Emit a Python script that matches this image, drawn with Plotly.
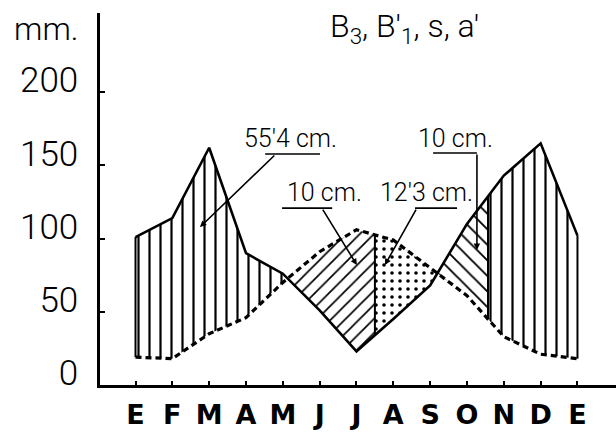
import numpy as np
import plotly.graph_objects as go

# ---------------- data ----------------
month_labels = ["E", "F", "M", "A", "M", "J", "J", "A", "S", "O", "N", "D", "E"]
months = list(range(len(month_labels)))
precip = [101, 114, 162, 90, 76, 51, 23, 45, 68, 110, 143, 165, 102]   # precipitation, mm (solid)
pet = [19, 18, 35, 46, 70, 91, 106, 99, 80, 61, 33, 21, 18]             # potential evapotranspiration, mm (dashed)
y_ticks = [0, 50, 100, 150, 200]
util_end = 6.50       # month position where soil-water use (10 cm) ends
recharge_end = 9.57   # month position where soil-water recharge (10 cm) ends
title_text = "B<sub>3</sub>, B'<sub>1</sub>, s, a'"

# --------------- helpers ---------------
m = np.array(months, dtype=float)
P = np.array(precip, dtype=float)
E = np.array(pet, dtype=float)
d = P - E
cross = []
for i in range(len(m) - 1):
    if d[i] * d[i + 1] < 0:
        cross.append(m[i] + d[i] / (d[i] - d[i + 1]))
c1, c2 = cross[0], cross[1]


def region(xa, xb, upper, lower):
    inner = [v for v in m if xa < v < xb]
    xs = [xa] + inner + [xb]
    up = np.interp(xs, m, upper)
    lo = np.interp(xs, m, lower)
    return xs + xs[::-1] + [xa], list(up) + list(lo[::-1]) + [up[0]]


def pat(shape, size, sol):
    return dict(shape=shape, size=size, solidity=sol, fgcolor="black",
                bgcolor="white", fgopacity=1)


fig = go.Figure()
regions = [
    (m[0], c1, P, E, pat("|", 11, 0.2)),
    (c1, util_end, E, P, pat("/", 10, 0.17)),
    (util_end, c2, E, P, pat(".", 8, 0.16)),
    (c2, recharge_end, P, E, pat("\\", 11, 0.17)),
    (recharge_end, m[-1], P, E, pat("|", 11, 0.2)),
]
for xa, xb, up, lo, fp in regions:
    xs, ys = region(xa, xb, up, lo)
    fig.add_trace(go.Scatter(x=xs, y=ys, mode="lines", line=dict(width=0, color="black"),
                             fill="toself", fillcolor="white", fillpattern=fp,
                             hoverinfo="skip"))

# boundary lines
for xv in [m[0], util_end, recharge_end, m[-1]]:
    fig.add_trace(go.Scatter(x=[xv, xv], y=[np.interp(xv, m, E), np.interp(xv, m, P)],
                             mode="lines", line=dict(color="black", width=2), hoverinfo="skip"))

fig.add_trace(go.Scatter(x=months, y=pet, mode="lines",
                         line=dict(color="black", width=3.2, dash="6px,4px"), hoverinfo="skip"))
fig.add_trace(go.Scatter(x=months, y=precip, mode="lines",
                         line=dict(color="black", width=2.6), hoverinfo="skip"))

lab_font = dict(family="Roboto", size=25, color="black", weight=300)
anns = [
    dict(x=4.20, y=168.6, text="55'4 cm."),
    dict(x=5.12, y=131.7, text="10 cm."),
    dict(x=7.91, y=131.7, text="12'3 cm."),
    dict(x=8.68, y=168.6, text="10 cm."),
]
annotations = []
for a in anns:
    annotations.append(dict(x=a["x"], y=a["y"], xref="x", yref="y", text=a["text"],
                            showarrow=False, font=lab_font, xanchor="center", yanchor="middle"))

arrows = [
    (3.81, 157.7, 1.75, 107.8),
    (5.06, 120.8, 6.01, 81.9),
    (7.64, 120.8, 6.77, 81.9),
    (9.27, 158.4, 9.27, 92.2),
]
for ax, ay, x, y in arrows:
    annotations.append(dict(x=x, y=y, ax=ax, ay=ay, xref="x", yref="y", axref="x", ayref="y",
                            text="", showarrow=True, arrowhead=2, arrowsize=0.8,
                            arrowwidth=1.6, arrowcolor="black", standoff=0))

annotations.append(dict(x=7.30, y=244, xref="x", yref="y", text=title_text, showarrow=False,
                        font=dict(family="Roboto", size=32, color="black", weight=300),
                        xanchor="center", yanchor="middle"))
annotations.append(dict(x=-0.0388, y=243, xref="paper", yref="y", text="mm.", showarrow=False,
                        font=dict(family="Roboto", size=32, color="black", weight=300),
                        xanchor="right", yanchor="middle"))

shapes = []
for x0, x1, y in [(3.52, 5.01, 157.7), (3.98, 5.34, 120.8), (7.59, 8.73, 120.8), (8.08, 9.27, 158.4)]:
    shapes.append(dict(type="line", x0=x0, x1=x1, y0=y, y1=y, xref="x", yref="y",
                       line=dict(color="black", width=1.6)))

fig.update_layout(
    width=616, height=438,
    margin=dict(l=100, r=0, t=13, b=53, autoexpand=False),
    plot_bgcolor="white", paper_bgcolor="white",
    showlegend=False,
    annotations=annotations,
    shapes=shapes,
    xaxis=dict(range=[-0.964, 13.046], tickmode="array", tickvals=months, ticktext=month_labels,
               showline=True, linecolor="black", linewidth=2.5, ticks="inside", ticklen=4,
               tickwidth=2, tickcolor="black", showgrid=False, zeroline=False, automargin=False,
               tickfont=dict(family="DejaVu Sans", size=27, color="black", weight="bold"),
               ticklabelstandoff=4),
    yaxis=dict(range=[0, 254], tickmode="array", tickvals=y_ticks,
               showline=True, linecolor="black", linewidth=2.5, ticks="inside", ticklen=5,
               tickwidth=2, tickcolor="black", showgrid=False, zeroline=False, automargin=False,
               tickfont=dict(family="Roboto", size=35, color="black", weight=300),
               ticklabelshift=-12, ticklabelstandoff=12),
)

fig.write_html("out.html", config={"displayModeBar": False},
               post_script="document.body.style.margin='0';document.body.style.overflow='hidden';")
